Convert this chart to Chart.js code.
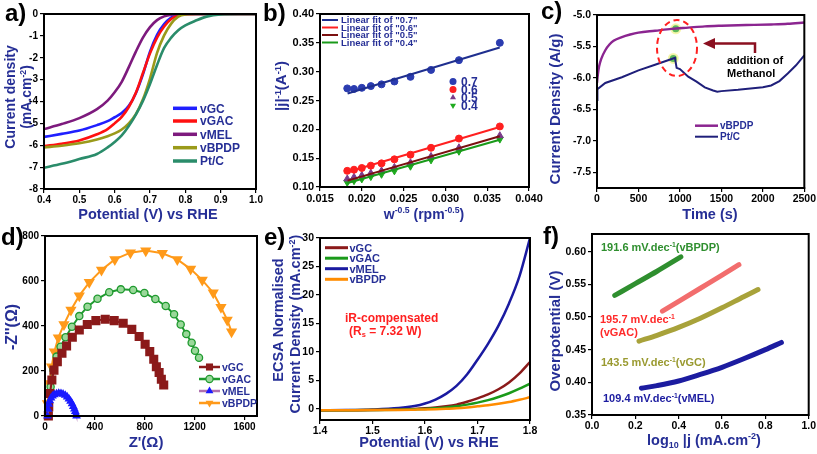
<!DOCTYPE html>
<html>
<head>
<meta charset="utf-8">
<script src="https://cdn.jsdelivr.net/npm/chart.js@4.4.1/dist/chart.umd.min.js"></script>
<style>
  html, body { margin: 0; padding: 0; background: #fff; }
  #wrap { position: relative; width: 817px; height: 454px; overflow: hidden; }
  #wrap canvas { position: absolute; left: 0; top: 0; }
</style>
</head>
<body>
<div id="wrap">
  <canvas id="chartA" width="817" height="454"></canvas>
  <canvas id="chartB" width="817" height="454"></canvas>
  <canvas id="chartC" width="817" height="454"></canvas>
  <canvas id="chartD" width="817" height="454"></canvas>
  <canvas id="chartE" width="817" height="454"></canvas>
  <canvas id="chartF" width="817" height="454"></canvas>
</div>
<script>
// a) LSV 곡선
const aPotential = [0.40, 0.45, 0.50, 0.55, 0.58, 0.60, 0.62, 0.64, 0.66, 0.68, 0.70, 0.72, 0.74, 0.76, 0.78, 0.80, 0.83, 0.86, 0.90, 0.95, 1.00];
const aVGC   = [-5.62, -5.48, -5.33, -5.08, -4.90, -4.72, -4.53, -4.20, -3.62, -2.76, -1.72, -0.95, -0.46, -0.16, -0.03, 0, 0, 0, 0, 0, 0];
const aVGAC  = [-6.04, -5.93, -5.78, -5.50, -5.26, -5.00, -4.70, -4.25, -3.60, -2.70, -1.80, -1.08, -0.57, -0.23, -0.06, -0.01, 0, 0, 0, 0, 0];
const aVMEL  = [-5.26, -5.03, -4.76, -4.35, -3.96, -3.58, -3.10, -2.43, -1.72, -1.08, -0.60, -0.28, -0.11, -0.03, -0.01, 0, 0, 0, 0, 0, 0];
const aVBPDP = [-6.10, -6.02, -5.91, -5.74, -5.59, -5.46, -5.28, -5.00, -4.58, -3.90, -2.95, -1.78, -0.98, -0.44, -0.12, -0.02, 0, 0, 0, 0, 0];
const aPtC   = [-7.03, -6.85, -6.63, -6.40, -6.10, -5.85, -5.55, -5.12, -4.60, -3.97, -3.20, -2.33, -1.55, -1.08, -0.74, -0.52, -0.30, -0.12, -0.02, 0, 0];
const aXTicks = [0.4, 0.5, 0.6, 0.7, 0.8, 0.9, 1.0];
const aYTicks = [-8, -7, -6, -5, -4, -3, -2, -1, 0];

// b) K-L plot
const bW = [0.01826, 0.01907, 0.02000, 0.02108, 0.02236, 0.02390, 0.02582, 0.02828, 0.03162, 0.03651];
const b07 = [0.271, 0.270, 0.272, 0.275, 0.278, 0.283, 0.291, 0.303, 0.320, 0.350];
const b06 = [0.128, 0.130, 0.133, 0.137, 0.141, 0.148, 0.156, 0.168, 0.184, 0.205];
const b05 = [0.114, 0.117, 0.120, 0.124, 0.128, 0.134, 0.142, 0.153, 0.168, 0.189];
const b04 = [0.108, 0.111, 0.114, 0.118, 0.122, 0.128, 0.136, 0.147, 0.162, 0.183];
const bFitW = [0.0183, 0.0365];
const bFit07 = [0.262, 0.342];
const bFit06 = [0.126, 0.204];
const bFit05 = [0.111, 0.188];
const bFit04 = [0.107, 0.182];
const bXTicks = [0.015, 0.020, 0.025, 0.030, 0.035, 0.040];
const bYTicks = [0.10, 0.15, 0.20, 0.25, 0.30, 0.35, 0.40];

// c) 메탄올 내성 (chronoamperometry)
const cTimeBPDP = [0, 10, 25, 50, 100, 150, 200, 300, 400, 500, 700, 900, 1100, 1300, 1500, 1800, 2100, 2300, 2500];
const cBPDP = [-6.08, -5.95, -5.82, -5.70, -5.56, -5.47, -5.41, -5.35, -5.31, -5.28, -5.25, -5.22, -5.20, -5.18, -5.17, -5.16, -5.15, -5.14, -5.12];
const cTimePtC = [0, 5, 100, 300, 500, 700, 900, 940, 960, 1000, 1100, 1200, 1300, 1400, 1450, 1500, 1700, 2000, 2100, 2200, 2300, 2400, 2500];
const cPtC = [-6.35, -6.18, -6.08, -5.99, -5.88, -5.79, -5.70, -5.68, -5.84, -5.86, -5.98, -6.06, -6.15, -6.20, -6.22, -6.21, -6.19, -6.15, -6.12, -6.05, -5.93, -5.80, -5.64];
const cDotTime = [950, 920];
const cDotValue = [-5.22, -5.69];
const cXTicks = [0, 500, 1000, 1500, 2000, 2500];
const cYTicks = [-7.5, -7.0, -6.5, -6.0, -5.5, -5.0];

// d) Nyquist
const dGCx = [27, 30, 40, 55, 72, 99, 136, 173, 219, 275, 339, 408, 483, 555, 627, 696, 755, 803, 840, 872, 893, 915, 933, 952];
const dGCy = [0, 40, 100, 160, 204, 241, 279, 311, 350, 382, 407, 424, 430, 424, 412, 385, 353, 319, 286, 252, 219, 193, 163, 138];
const dGACx = [27, 45, 67, 93, 125, 165, 216, 275, 341, 421, 515, 608, 707, 797, 885, 968, 1035, 1088, 1133, 1176, 1203, 1235];
const dGACy = [27, 130, 204, 264, 308, 350, 397, 444, 486, 521, 550, 563, 560, 547, 520, 489, 452, 407, 364, 326, 290, 259];
const dMELx = [20, 24, 30, 38, 48, 60, 75, 92, 110, 128, 145, 162, 178, 192, 205, 217, 227, 236, 243, 249, 253];
const dMELy = [0, 30, 52, 68, 80, 89, 95, 99, 101, 100, 97, 92, 85, 76, 66, 55, 43, 31, 20, 9, 0];
const dBPDPx = [19, 35, 53, 75, 107, 152, 208, 275, 355, 453, 560, 685, 808, 941, 1061, 1168, 1261, 1349, 1411, 1461, 1496];
const dBPDPy = [56, 145, 219, 286, 348, 407, 471, 535, 594, 649, 696, 726, 735, 723, 696, 653, 604, 548, 483, 427, 375];
const dXTicks = [0, 400, 800, 1200, 1600];
const dYTicks = [0, 200, 400, 600, 800];

// e) OER LSV
const ePotential = [1.40, 1.45, 1.50, 1.55, 1.58, 1.60, 1.62, 1.64, 1.66, 1.68, 1.70, 1.72, 1.74, 1.76, 1.78, 1.80];
const eVGC   = [-0.30, -0.28, -0.25, -0.15, -0.05, 0.05, 0.20, 0.40, 0.70, 1.20, 1.80, 2.50, 3.40, 4.60, 6.20, 8.20];
const eVGAC  = [-0.30, -0.28, -0.25, -0.20, -0.12, -0.05, 0.05, 0.20, 0.40, 0.70, 1.05, 1.50, 2.05, 2.70, 3.50, 4.40];
const eVMEL  = [-0.30, -0.25, -0.15, 0.10, 0.45, 0.90, 1.60, 2.60, 4.00, 6.00, 8.60, 11.4, 14.6, 18.5, 23.3, 30.0];
const eVBPDP = [-0.30, -0.28, -0.26, -0.22, -0.18, -0.15, -0.10, -0.03, 0.05, 0.20, 0.40, 0.60, 0.85, 1.15, 1.55, 2.00];
const eXTicks = [1.4, 1.5, 1.6, 1.7, 1.8];
const eYTicks = [0, 5, 10, 15, 20, 25, 30];

// f) Tafel
const fBPDPx = [0.105, 0.20, 0.30, 0.41];
const fBPDPy = [0.533, 0.551, 0.570, 0.592];
const fGACx = [0.325, 0.40, 0.50, 0.60, 0.678];
const fGACy = [0.509, 0.524, 0.544, 0.564, 0.580];
const fGCx = [0.217, 0.30, 0.40, 0.50, 0.60, 0.70, 0.766];
const fGCy = [0.463, 0.472, 0.484, 0.498, 0.514, 0.531, 0.542];
const fMELx = [0.228, 0.30, 0.40, 0.50, 0.60, 0.70, 0.80, 0.874];
const fMELy = [0.391, 0.395, 0.402, 0.412, 0.423, 0.436, 0.450, 0.461];
const fXTicks = [0.0, 0.2, 0.4, 0.6, 0.8, 1.0];
const fYTicks = [0.35, 0.40, 0.45, 0.50, 0.55, 0.60];

const FAMILY = "'Liberation Sans', Arial, Helvetica, sans-serif";
const NAVY = "#262f96";
const PAGE_W = 817;
const PAGE_H = 454;
const Y_W = 40;   // y축 폭 고정
const X_H = 20;   // x축 높이 고정

Chart.defaults.font.family = FAMILY;
Chart.defaults.font.weight = "bold";
Chart.defaults.color = "#000";

const pts = (xs, ys) => xs.map((x, i) => ({ x, y: ys[i] }));

function linAxis(min, max, ticks, digits, size, horizontal) {
  return {
    type: "linear",
    min,
    max,
    afterBuildTicks: (s) => { s.ticks = ticks.map((v) => ({ value: v })); },
    afterFit: (s) => { if (horizontal) s.height = X_H; else s.width = Y_W; },
    ticks: {
      callback: (v) => Number(v).toFixed(digits),
      color: "#000",
      font: { size, weight: "bold", family: FAMILY },
      padding: horizontal ? 1 : 2,
      autoSkip: false,
      maxRotation: 0,
      minRotation: 0
    },
    grid: { drawOnChartArea: false, drawTicks: true, tickLength: 4, color: "#000", lineWidth: 1.2 },
    border: { display: true, color: "#000", width: 2 },
    title: { display: false }
  };
}

function line(xs, ys, color, width, extra) {
  return Object.assign({
    data: pts(xs, ys),
    showLine: true,
    borderColor: color,
    backgroundColor: color,
    borderWidth: width,
    pointRadius: 0,
    cubicInterpolationMode: "monotone"
  }, extra || {});
}

// 위첨자/아래첨자 텍스트
function drawRich(ctx, parts, x, y, size, color, align) {
  ctx.save();
  ctx.fillStyle = color;
  ctx.textBaseline = "alphabetic";
  ctx.textAlign = "left";
  const segs = parts.map((p) => {
    let kind = "n";
    let t = p;
    if (p[0] === "^") { kind = "sup"; t = p.slice(1); }
    else if (p[0] === "_") { kind = "sub"; t = p.slice(1); }
    const fs = kind === "n" ? size : size * 0.62;
    ctx.font = `bold ${fs}px ${FAMILY}`;
    return { t, kind, fs, w: ctx.measureText(t).width };
  });
  const total = segs.reduce((s, g) => s + g.w, 0);
  let cx = align === "center" ? x - total / 2 : x;
  segs.forEach((g) => {
    ctx.font = `bold ${g.fs}px ${FAMILY}`;
    const dy = g.kind === "sup" ? -size * 0.38 : g.kind === "sub" ? size * 0.2 : 0;
    ctx.fillText(g.t, cx, y + dy);
    cx += g.w;
  });
  ctx.restore();
}

function drawRotated(ctx, parts, cx, cy, size, color) {
  ctx.save();
  ctx.translate(cx, cy);
  ctx.rotate(-Math.PI / 2);
  drawRich(ctx, parts, 0, size * 0.35, size, color, "center");
  ctx.restore();
}

function panelLabel(ctx, text, x, y) {
  drawRich(ctx, [text], x, y, 24, "#000", "left");
}

function marker(ctx, style, x, y, r, fill, stroke) {
  ctx.save();
  ctx.beginPath();
  if (style === "circle") {
    ctx.arc(x, y, r, 0, Math.PI * 2);
  } else if (style === "rect") {
    const s = r * 0.707;
    ctx.rect(x - s, y - s, 2 * s, 2 * s);
  } else if (style === "tri") {
    ctx.moveTo(x, y - r);
    ctx.lineTo(x + r * 0.866, y + r * 0.5);
    ctx.lineTo(x - r * 0.866, y + r * 0.5);
    ctx.closePath();
  } else if (style === "triDown") {
    ctx.moveTo(x, y + r);
    ctx.lineTo(x + r * 0.866, y - r * 0.5);
    ctx.lineTo(x - r * 0.866, y - r * 0.5);
    ctx.closePath();
  }
  ctx.fillStyle = fill;
  ctx.fill();
  if (stroke) {
    ctx.strokeStyle = stroke;
    ctx.lineWidth = 1.2;
    ctx.stroke();
  }
  ctx.restore();
}

function legendLine(ctx, x1, x2, y, color, width) {
  ctx.save();
  ctx.strokeStyle = color;
  ctx.lineWidth = width;
  ctx.beginPath();
  ctx.moveTo(x1, y);
  ctx.lineTo(x2, y);
  ctx.stroke();
  ctx.restore();
}

function drawFrame(chart) {
  const { ctx, chartArea: a } = chart;
  ctx.save();
  ctx.strokeStyle = "#000";
  ctx.lineWidth = 2;
  ctx.strokeRect(a.left, a.top, a.right - a.left, a.bottom - a.top);
  ctx.restore();
}

function makePanel(id, box, xAxis, yAxis, datasets, deco) {
  return new Chart(document.getElementById(id), {
    type: "scatter",
    data: { datasets },
    options: {
      responsive: false,
      animation: false,
      events: [],
      layout: {
        padding: {
          left: box.left - Y_W,
          top: box.top,
          right: PAGE_W - box.right,
          bottom: PAGE_H - box.bottom - X_H
        }
      },
      plugins: { legend: { display: false }, tooltip: { enabled: false } },
      scales: { x: xAxis, y: yAxis }
    },
    plugins: [{
      id: "deco_" + id,
      afterDraw(chart) {
        drawFrame(chart);
        deco(chart.ctx, chart);
      }
    }]
  });
}

// ---------- a) ----------
makePanel("chartA", { left: 44, right: 256, top: 14, bottom: 189 },
  linAxis(0.4, 1.0, aXTicks, 1, 10, true),
  linAxis(-8, 0, aYTicks, 0, 10, false),
  [
    line(aPotential, aPtC, "#2a8c6a", 2.6),
    line(aPotential, aVBPDP, "#9a9a1a", 2.6),
    line(aPotential, aVMEL, "#7d1a7d", 2.6),
    line(aPotential, aVGAC, "#ff1010", 2.6),
    line(aPotential, aVGC, "#1f1fff", 2.6)
  ],
  (ctx) => {
    panelLabel(ctx, "a)", 5, 21);
    drawRotated(ctx, ["Current density"], 10, 97, 14, NAVY);
    drawRotated(ctx, ["(mA.cm", "^-2", ")"], 26, 97, 14, NAVY);
    drawRich(ctx, ["Potential (V) vs RHE"], 148, 218.5, 14.5, NAVY, "center");
    const items = [
      ["vGC", "#1f1fff", 108.3],
      ["vGAC", "#ff1010", 121],
      ["vMEL", "#7d1a7d", 134.3],
      ["vBPDP", "#9a9a1a", 147.7],
      ["Pt/C", "#2a8c6a", 161]
    ];
    items.forEach(([name, color, y]) => {
      legendLine(ctx, 173, 197, y, color, 3.5);
      drawRich(ctx, [name], 200, y + 4.3, 12, NAVY, "left");
    });
  });

// ---------- b) ----------
makePanel("chartB", { left: 320, right: 529, top: 14, bottom: 187 },
  linAxis(0.015, 0.040, bXTicks, 3, 11, true),
  linAxis(0.10, 0.40, bYTicks, 2, 11, false),
  [
    line(bFitW, bFit07, "#1f2f8f", 2, { cubicInterpolationMode: "default" }),
    line(bFitW, bFit06, "#ff2020", 2, { cubicInterpolationMode: "default" }),
    line(bFitW, bFit05, "#7b1010", 2, { cubicInterpolationMode: "default" }),
    line(bFitW, bFit04, "#1a9a1a", 2, { cubicInterpolationMode: "default" }),
    { data: pts(bW, b07), showLine: false, pointStyle: "circle", pointRadius: 3.5, backgroundColor: "#2b3cb0", borderColor: "#2b3cb0" },
    { data: pts(bW, b06), showLine: false, pointStyle: "circle", pointRadius: 3.5, backgroundColor: "#ff2020", borderColor: "#ff2020" },
    { data: pts(bW, b05), showLine: false, pointStyle: "triangle", pointRadius: 4, backgroundColor: "#7a3a8a", borderColor: "#7a3a8a" },
    { data: pts(bW, b04), showLine: false, pointStyle: "triangle", rotation: 180, pointRadius: 4, backgroundColor: "#1faa1f", borderColor: "#1faa1f" }
  ],
  (ctx) => {
    panelLabel(ctx, "b)", 263, 21);
    drawRotated(ctx, ["|j|", "^-1", "(A", "^-1", ")"], 281, 86, 15, NAVY);
    drawRich(ctx, ["w", "^-0.5", " (rpm", "^-0.5", ")"], 424, 218.5, 14, NAVY, "center");
    const fits = [
      ['Linear fit of "0.7"', "#1f2f8f", 20],
      ['Linear fit of "0.6"', "#ff2020", 27.5],
      ['Linear fit of "0.5"', "#7b1010", 35],
      ['Linear fit of "0.4"', "#1a9a1a", 42.5]
    ];
    fits.forEach(([name, color, y]) => {
      legendLine(ctx, 322, 338, y, color, 2);
      drawRich(ctx, [name], 341, y + 3.3, 9.5, NAVY, "left");
    });
    const marks = [
      ["0.7", "circle", "#2b3cb0", 81.5],
      ["0.6", "circle", "#ff2020", 89.5],
      ["0.5", "tri", "#7a3a8a", 97.5],
      ["0.4", "triDown", "#1faa1f", 105.5]
    ];
    marks.forEach(([name, style, color, y]) => {
      marker(ctx, style, 453, y, 3.5, color);
      drawRich(ctx, [name], 461, y + 4.2, 12, NAVY, "left");
    });
  });

// ---------- c) ----------
makePanel("chartC", { left: 597, right: 808, top: 15, bottom: 188 },
  linAxis(0, 2500, cXTicks, 0, 10.5, true),
  linAxis(-7.75, -5.0, cYTicks, 1, 10.5, false),
  [
    line(cTimePtC, cPtC, "#1f1f7a", 2, { cubicInterpolationMode: "default", tension: 0 }),
    line(cTimeBPDP, cBPDP, "#8b2590", 2.4),
    { data: pts(cDotTime, cDotValue), showLine: false, pointRadius: 4.5, backgroundColor: "#5cb85c", borderColor: "rgba(245,245,170,0.95)", borderWidth: 2 }
  ],
  (ctx) => {
    panelLabel(ctx, "c)", 541, 19);
    drawRotated(ctx, ["Current Density (A/g)"], 555, 109, 15, NAVY);
    drawRich(ctx, ["Time (s)"], 710, 218.5, 14.5, NAVY, "center");
    // 메탄올 투입 표시
    ctx.save();
    ctx.strokeStyle = "#ff2020";
    ctx.lineWidth = 2;
    ctx.setLineDash([6, 4]);
    ctx.beginPath();
    ctx.ellipse(677, 48, 20, 28, 0, 0, Math.PI * 2);
    ctx.stroke();
    ctx.setLineDash([]);
    ctx.strokeStyle = "#8b1020";
    ctx.fillStyle = "#8b1020";
    ctx.lineWidth = 2.5;
    ctx.beginPath();
    ctx.moveTo(755, 53);
    ctx.lineTo(755, 43.5);
    ctx.lineTo(713, 43.5);
    ctx.stroke();
    ctx.beginPath();
    ctx.moveTo(703, 43.5);
    ctx.lineTo(715, 38);
    ctx.lineTo(715, 49);
    ctx.closePath();
    ctx.fill();
    ctx.restore();
    drawRich(ctx, ["addition of"], 727, 64, 11, "#000", "left");
    drawRich(ctx, ["Methanol"], 727, 76.5, 11, "#000", "left");
    legendLine(ctx, 695, 718, 125.7, "#8b2590", 2.5);
    drawRich(ctx, ["vBPDP"], 720, 129.2, 10, NAVY, "left");
    legendLine(ctx, 695, 718, 136.7, "#1f1f7a", 2);
    drawRich(ctx, ["Pt/C"], 720, 140.2, 10, NAVY, "left");
  });

// ---------- d) ----------
makePanel("chartD", { left: 45, right: 257, top: 236, bottom: 416 },
  linAxis(0, 1700, dXTicks, 0, 10, true),
  linAxis(0, 800, dYTicks, 0, 10, false),
  [
    line(dMELx, dMELy, "#b070b0", 1.5, { cubicInterpolationMode: "default", tension: 0, pointStyle: "triangle", pointRadius: 3.6, pointBackgroundColor: "#1a1aff", pointBorderColor: "#1a1aff", clip: 6 }),
    line(dGCx, dGCy, "#8b1a1a", 2, { cubicInterpolationMode: "default", tension: 0, pointStyle: "rect", pointRadius: 5, pointBackgroundColor: "#8b1a1a", pointBorderColor: "#8b1a1a", clip: 6 }),
    line(dGACx, dGACy, "#1f9a2f", 2, { cubicInterpolationMode: "default", tension: 0, pointStyle: "circle", pointRadius: 3.6, pointBackgroundColor: "#9ad89a", pointBorderColor: "#1f9a2f", pointBorderWidth: 1.3, clip: 6 }),
    line(dBPDPx, dBPDPy, "#ff9a1a", 2, { cubicInterpolationMode: "default", tension: 0, pointStyle: "triangle", rotation: 180, pointRadius: 4.5, pointBackgroundColor: "#ff9a1a", pointBorderColor: "#ff9a1a", clip: 6 })
  ],
  (ctx) => {
    panelLabel(ctx, "d)", 1, 245);
    drawRotated(ctx, ["-Z''(\u03A9)"], 11, 327, 16, NAVY);
    drawRich(ctx, ["Z'(\u03A9)"], 146, 447, 15, NAVY, "center");
    const items = [
      ["vGC", "#8b1a1a", "rect", 5, "#8b1a1a", null, 367],
      ["vGAC", "#1f9a2f", "circle", 3.6, "#9ad89a", "#1f9a2f", 379],
      ["vMEL", "#b070b0", "tri", 4.5, "#1a1aff", null, 391],
      ["vBPDP", "#ff9a1a", "triDown", 4.5, "#ff9a1a", null, 403]
    ];
    items.forEach(([name, color, style, r, fill, stroke, y]) => {
      legendLine(ctx, 199, 220, y, color, 2.5);
      marker(ctx, style, 209.5, y, r, fill, stroke);
      drawRich(ctx, [name], 222, y + 3.8, 10.5, NAVY, "left");
    });
  });

// ---------- e) ----------
makePanel("chartE", { left: 320, right: 530, top: 238, bottom: 420 },
  linAxis(1.4, 1.8, eXTicks, 1, 10.5, true),
  linAxis(-2, 30, eYTicks, 0, 10.5, false),
  [
    line(ePotential, eVBPDP, "#ff8c00", 2.5),
    line(ePotential, eVGAC, "#1a9a1a", 2.5),
    line(ePotential, eVGC, "#8b1a1a", 2.5),
    line(ePotential, eVMEL, "#1a1aa0", 2.5)
  ],
  (ctx) => {
    panelLabel(ctx, "e)", 264, 245);
    drawRotated(ctx, ["ECSA Normalised"], 278, 320, 14.5, NAVY);
    drawRotated(ctx, ["Current Density (mA.cm", "^-2", ")"], 295, 324, 14.5, NAVY);
    drawRich(ctx, ["Potential (V) vs RHE"], 429, 446.5, 14.5, NAVY, "center");
    const items = [
      ["vGC", "#8b1a1a", 247.7],
      ["vGAC", "#1a9a1a", 258.2],
      ["vMEL", "#1a1aa0", 268.7],
      ["vBPDP", "#ff8c00", 279.3]
    ];
    items.forEach(([name, color, y]) => {
      legendLine(ctx, 325, 348, y, color, 3);
      drawRich(ctx, [name], 349.5, y + 4, 11, NAVY, "left");
    });
    drawRich(ctx, ["iR-compensated"], 345, 322, 12, "#ff2020", "left");
    drawRich(ctx, ["(R", "_s", " = 7.32 W)"], 349, 335, 12, "#ff2020", "left");
  });

// ---------- f) ----------
makePanel("chartF", { left: 592, right: 809, top: 234, bottom: 415 },
  linAxis(0, 1.0, fXTicks, 1, 10.5, true),
  linAxis(0.35, 0.627, fYTicks, 2, 10.5, false),
  [
    line(fMELx, fMELy, "#1c1ca0", 5, { borderCapStyle: "round" }),
    line(fGCx, fGCy, "#a8a23a", 5, { borderCapStyle: "round" }),
    line(fGACx, fGACy, "#f26d6d", 5, { borderCapStyle: "round" }),
    line(fBPDPx, fBPDPy, "#2f8f2f", 5, { borderCapStyle: "round" })
  ],
  (ctx) => {
    panelLabel(ctx, "f)", 543, 244);
    drawRotated(ctx, ["Overpotential (V)"], 555, 331, 15, NAVY);
    drawRich(ctx, ["log", "_10", " |j (mA.cm", "^-2", ")"], 704, 445, 14.5, NAVY, "center");
    drawRich(ctx, ["191.6 mV.dec", "^-1", "(vBPDP)"], 601, 251, 11, "#2f8f2f", "left");
    drawRich(ctx, ["195.7 mV.dec", "^-1"], 600, 323, 11, "#ff2a2a", "left");
    drawRich(ctx, ["(vGAC)"], 600, 335.5, 11, "#ff2a2a", "left");
    drawRich(ctx, ["143.5 mV.dec", "^-1", "(vGC)"], 601, 366, 11, "#9a9a30", "left");
    drawRich(ctx, ["109.4 mV.dec", "^-1", "(vMEL)"], 603, 402, 11, "#1c1ca0", "left");
  });
</script>
</body>
</html>
